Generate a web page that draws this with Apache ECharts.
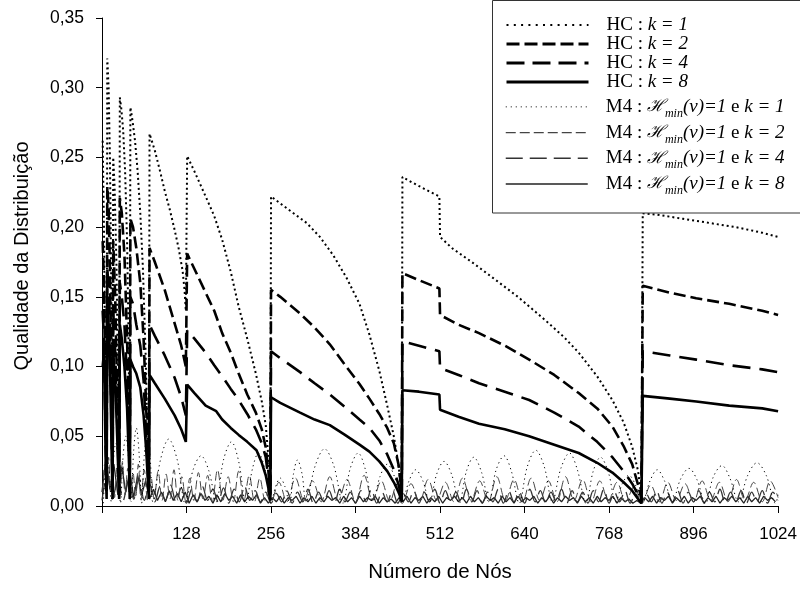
<!DOCTYPE html>
<html>
<head>
<meta charset="utf-8">
<script src="https://cdn.jsdelivr.net/npm/echarts@6/dist/echarts.min.js"></script>
<style>html,body{margin:0;padding:0;background:#fff}#c{width:800px;height:590px}</style>
</head>
<body>
<div id="c"></div>
<script>
// ---- data ----
const xTicks = [0, 128, 256, 384, 512, 640, 768, 896, 1024];
const yTicks = [0, 0.05, 0.10, 0.15, 0.20, 0.25, 0.30, 0.35];

const hcK1 = [
[1,0.262],[3,0.2],[5,0.09],[7,0.015],
[8,0.321],[10,0.3],[12,0.25],[14,0.16],[16,0.03],
[17,0.25],[19,0.23],[22,0.17],[24,0.1],[26,0.02],
[27,0.293],[29,0.286],[32,0.27],[35,0.24],[38,0.19],[40,0.13],[42,0.03],
[43,0.286],[46,0.277],[50,0.262],[54,0.24],[58,0.21],[62,0.17],[66,0.11],[69,0.05],[71,0.01],
[72,0.267],[80,0.255],[88,0.24],[95,0.226],[103,0.212],[110,0.198],[116,0.185],[122,0.169],[125,0.155],[127,0.14],
[129,0.251],[140,0.24],[157,0.222],[170,0.208],[182,0.191],[195,0.168],[207,0.143],[220,0.12],[233,0.095],[242,0.075],[248,0.058],[252,0.035],[255,0.01],
[256,0.222],[270,0.217],[290,0.21],[310,0.203],[330,0.193],[350,0.18],[370,0.164],[390,0.145],[405,0.123],[420,0.097],[432,0.072],[442,0.05],[449,0.03],[453,0.012],[454,0.005],
[455,0.236],[470,0.232],[490,0.227],[511,0.222],[512,0.193],[530,0.185],[560,0.175],[591,0.164],[630,0.15],[672,0.133],[700,0.121],[722,0.11],[750,0.093],[773,0.076],[790,0.06],[803,0.0425],[812,0.025],[817,0.006],
[819,0.21],[840,0.209],[880,0.206],[920,0.203],[960,0.2],[1000,0.196],[1024,0.193]
];
const hcK2 = [
[1,0.19],[3,0.16],[5,0.08],[7,0.01],
[8,0.229],[10,0.215],[12,0.17],[14,0.1],[16,0.01],
[17,0.19],[20,0.15],[23,0.08],[26,0.01],
[27,0.221],[30,0.21],[34,0.18],[38,0.12],[41,0.05],[42,0.01],
[43,0.206],[47,0.2],[52,0.185],[58,0.16],[63,0.12],[67,0.07],[71,0.01],
[72,0.185],[80,0.175],[95,0.155],[110,0.131],[120,0.115],[127,0.1],
[129,0.181],[140,0.17],[157,0.153],[170,0.14],[182,0.124],[195,0.11],[207,0.095],[220,0.08],[233,0.067],[242,0.055],[248,0.042],[252,0.025],[255,0.008],
[256,0.155],[270,0.15],[300,0.138],[322,0.128],[345,0.116],[370,0.1],[390,0.0875],[405,0.077],[420,0.066],[432,0.056],[442,0.045],[449,0.03],[453,0.014],[454,0.005],
[455,0.167],[480,0.162],[511,0.156],[512,0.137],[540,0.13],[571,0.124],[610,0.115],[647,0.105],[685,0.094],[722,0.081],[750,0.07],[773,0.057],[790,0.043],[803,0.03],[812,0.015],[817,0.005],
[819,0.158],[860,0.153],[900,0.149],[950,0.145],[1000,0.14],[1024,0.137]
];
const hcK4 = [
[1,0.14],[3,0.12],[5,0.06],[7,0.01],
[8,0.17],[11,0.15],[13,0.1],[15,0.04],[16,0.01],
[17,0.14],[20,0.11],[23,0.06],[26,0.01],
[27,0.16],[30,0.15],[34,0.13],[38,0.09],[41,0.04],[42,0.01],
[43,0.15],[47,0.145],[52,0.13],[58,0.115],[63,0.09],[67,0.05],[71,0.01],
[72,0.13],[80,0.122],[95,0.108],[110,0.092],[120,0.078],[127,0.065],
[129,0.126],[140,0.12],[157,0.11],[170,0.101],[182,0.093],[195,0.084],[207,0.076],[220,0.066],[233,0.055],[242,0.045],[248,0.035],[252,0.02],[255,0.005],
[256,0.111],[270,0.106],[300,0.096],[322,0.088],[345,0.08],[368,0.071],[390,0.062],[405,0.056],[420,0.047],[432,0.037],[442,0.026],[450,0.014],[454,0.004],
[455,0.118],[480,0.115],[511,0.111],[512,0.099],[540,0.094],[571,0.088],[610,0.082],[647,0.076],[685,0.067],[722,0.057],[750,0.046],[773,0.035],[790,0.025],[803,0.016],[812,0.008],[817,0.003],
[819,0.111],[860,0.108],[900,0.105],[950,0.101],[1000,0.098],[1024,0.096]
];
const hcK8 = [
[1,0.10],[3,0.11],[5,0.05],[7,0.005],
[8,0.15],[11,0.12],[13,0.08],[15,0.03],[16,0.005],
[17,0.11],[20,0.09],[23,0.05],[26,0.005],
[27,0.13],[30,0.12],[34,0.1],[38,0.07],[41,0.03],[42,0.005],
[43,0.105],[47,0.1],[52,0.095],[58,0.085],[63,0.065],[67,0.04],[71,0.005],
[72,0.094],[80,0.088],[95,0.077],[110,0.065],[120,0.055],[127,0.046],
[129,0.087],[140,0.081],[157,0.072],[173,0.068],[182,0.062],[195,0.056],[207,0.051],[220,0.046],[234,0.04],[242,0.031],[248,0.022],[252,0.013],[255,0.004],
[256,0.078],[270,0.074],[300,0.067],[322,0.062],[345,0.058],[368,0.051],[390,0.044],[405,0.039],[420,0.032],[432,0.025],[442,0.017],[450,0.009],[454,0.003],
[455,0.083],[480,0.082],[511,0.08],[512,0.069],[540,0.064],[571,0.059],[610,0.055],[647,0.05],[685,0.044],[722,0.038],[750,0.031],[773,0.024],[790,0.017],[803,0.011],[812,0.005],[817,0.002],
[819,0.079],[860,0.077],[900,0.075],[950,0.072],[1000,0.07],[1024,0.068]
];

const m4K1 = [
[2,0.002],[5,0.026],[8,0.035],[11,0.025],
[14,0.003],[17,0.032],[21,0.045],[25,0.031],
[28,0.002],[32,0.036],[36,0.05],[40,0.035],
[44,0.003],[48,0.04],[52,0.056],[56,0.039],
[60,0.002],[64,0.036],[68,0.05],[73,0.034],
[77,0.003],[89,0.034],[101,0.048],[114,0.033],
[126,0.002],[138,0.026],[150,0.036],[162,0.025],
[173,0.003],[184,0.033],[196,0.046],[207,0.032],
[218,0.002],[228,0.027],[237,0.038],[247,0.026],
[256,0.002],[263,0.014],[270,0.02],[277,0.014],
[284,0.002],[290,0.023],[296,0.033],[303,0.023],
[309,0.003],[323,0.029],[337,0.041],[351,0.029],
[365,0.002],[376,0.027],[388,0.038],[399,0.026],
[410,0.003],[421,0.021],[432,0.03],[443,0.021],
[454,0.002],[465,0.018],[475,0.026],[486,0.018],
[496,0.003],[507,0.023],[518,0.032],[530,0.022],
[541,0.002],[552,0.025],[563,0.035],[575,0.024],
[586,0.003],[597,0.026],[609,0.036],[620,0.025],
[632,0.002],[644,0.028],[657,0.04],[670,0.028],
[682,0.003],[695,0.027],[708,0.038],[720,0.026],
[733,0.002],[744,0.025],[755,0.035],[767,0.024],
[778,0.003],[788,0.016],[798,0.022],[808,0.015],
[818,0.002],[830,0.018],[841,0.026],[852,0.018],
[864,0.003],[876,0.019],[889,0.027],[901,0.019],
[914,0.002],[926,0.021],[939,0.029],[951,0.02],
[964,0.003],[978,0.022],[992,0.031],[1006,0.022],
[1020,0.002],[1024,0.008]
];
const m4K2 = [
[1,0.01],[4,0.03],[7,0.008],[10,0.035],[13,0.01],[16,0.028],[19,0.006],[23,0.03],[27,0.005],[31,0.032],
[35,0.008],[39,0.027],[43,0.004],[47,0.024],[51,0.006],[55,0.03],[59,0.005],[64,0.026],[69,0.004],[74,0.022],
[79,0.005],[85,0.025],[91,0.004],[97,0.023],[103,0.005],[109,0.026],[115,0.004],[121,0.021],[127,0.003],
[133,0.02],[139,0.004],[146,0.024],[153,0.005],[160,0.022],[167,0.003],[175,0.026],[183,0.004],[191,0.021],
[199,0.003],[207,0.025],[215,0.004],[223,0.022],[231,0.003],[239,0.02],[247,0.004],[252,0.012],[256,0.002],
[268,0.017],[280,0.003],[293,0.02],[306,0.004],[319,0.018],[332,0.003],[345,0.021],[358,0.004],[371,0.019],
[384,0.003],[397,0.022],[410,0.004],[423,0.018],[436,0.003],[446,0.015],[455,0.002],
[468,0.016],[481,0.003],[494,0.019],[507,0.004],[520,0.017],[533,0.003],[546,0.02],[559,0.004],[572,0.018],
[585,0.003],[598,0.021],[611,0.004],[624,0.019],[637,0.003],[650,0.02],[663,0.004],[676,0.018],[689,0.003],
[702,0.021],[715,0.004],[728,0.019],[741,0.003],[754,0.018],[767,0.004],[780,0.017],[793,0.003],[806,0.014],
[818,0.002],[831,0.015],[844,0.003],[857,0.017],[870,0.004],[883,0.016],[896,0.003],[909,0.018],[922,0.004],
[935,0.017],[948,0.003],[961,0.019],[974,0.004],[987,0.017],[1000,0.003],[1012,0.018],[1024,0.006]
];
// M4 k=4: one value every 8 nodes, starting at node 0
const m4K4Step = 8;
const m4K4 = [
0.004,0.022,0.005,0.02,0.004,0.018,0.005,0.02,0.004,0.016,
0.003,0.014,0.004,0.015,0.003,0.013,0.002,0.012,0.003,0.014,
0.004,0.012,0.003,0.013,0.002,0.012,0.003,0.014,0.004,0.011,
0.003,0.01,0.002,0.009,0.003,0.011,0.002,0.01,0.003,0.012,
0.002,0.01,0.003,0.011,0.002,0.012,0.003,0.01,0.002,0.011,
0.003,0.012,0.002,0.01,0.003,0.011,0.002,0.009,0.003,0.011,
0.002,0.01,0.003,0.012,0.002,0.011,0.003,0.01,0.002,0.012,
0.003,0.011,0.002,0.01,0.003,0.012,0.002,0.011,0.003,0.01,
0.002,0.012,0.003,0.011,0.002,0.01,0.003,0.012,0.002,0.011,
0.003,0.01,0.002,0.011,0.003,0.012,0.002,0.01,0.003,0.011,
0.002,0.009,0.002,0.009,0.003,0.011,0.002,0.01,0.003,0.011,
0.002,0.01,0.003,0.011,0.002,0.01,0.003,0.012,0.002,0.01,
0.003,0.011,0.002,0.01,0.003,0.011,0.002,0.01,0.004
];
// M4 k=8: one value every 6 nodes, starting at node 0
const m4K8Step = 6;
const m4K8 = [
0.01,0.035,0.012,0.03,0.008,0.028,0.01,0.025,0.006,0.022,0.008,0.018,0.005,
0.012,0.004,0.01,0.003,0.011,0.004,0.009,0.003,0.01,0.002,
0.008,0.003,0.009,0.004,0.007,0.002,0.008,0.003,0.009,0.004,
0.007,0.002,0.008,0.003,0.007,0.004,0.008,0.002,0.006,0.002,
0.006,0.003,0.007,0.002,0.006,0.004,0.007,0.002,0.006,0.003,
0.007,0.002,0.006,0.003,0.007,0.004,0.006,0.002,0.007,0.003,
0.006,0.002,0.007,0.003,0.006,0.004,0.007,0.002,0.006,0.003,
0.005,0.002,0.006,0.003,0.007,0.002,0.006,0.004,0.007,0.002,
0.006,0.003,0.007,0.002,0.006,0.004,0.007,0.003,0.006,0.002,
0.007,0.003,0.006,0.002,0.007,0.004,0.006,0.002,0.007,0.003,
0.006,0.002,0.007,0.003,0.006,0.004,0.007,0.002,0.006,0.003,
0.007,0.002,0.006,0.003,0.007,0.004,0.006,0.002,0.007,0.003,
0.006,0.002,0.007,0.003,0.006,0.004,0.007,0.002,0.006,0.003,
0.005,0.002,0.004,0.002,0.006,0.003,0.007,0.002,0.006,0.004,
0.007,0.002,0.006,0.003,0.007,0.002,0.006,0.004,0.007,0.002,
0.006,0.003,0.007,0.002,0.006,0.004,0.007,0.003,0.006,0.002,
0.007,0.003,0.006,0.002,0.007,0.004,0.006,0.003
];

const names = ['hc1','hc2','hc4','hc8','m41','m42','m44','m48'];
const labelsK = ['1','2','4','8'];

// ---- chart ----
const chart = echarts.init(document.getElementById('c'), null, {renderer: 'canvas'});
const serif = 'Liberation Serif';
function fmt(name) {
  const k = labelsK[names.indexOf(name) % 4];
  if (name.startsWith('hc')) return '{r|HC : }{i|k = ' + k + '}';
  return '{r|M4 : }{h|ℋ}{s|min}{i|(v)=1}{r| e }{i|k = ' + k + '}';
}
function richSet(lh) {
  return {
    r: {fontFamily: serif, fontSize: 19, color: '#000', lineHeight: lh},
    i: {fontFamily: serif, fontSize: 19, fontStyle: 'italic', color: '#000', lineHeight: lh},
    h: {fontFamily: 'DejaVu Serif', fontSize: 17, fontStyle: 'italic', color: '#000', lineHeight: lh},
    s: {fontFamily: serif, fontSize: 12, fontStyle: 'italic', color: '#000', lineHeight: 12, verticalAlign: 'bottom'}
  };
}
const sty = {
  hc1: {color: '#000', width: 2, type: [2, 3]},
  hc2: {color: '#000', width: 2.6, type: [12, 5]},
  hc4: {color: '#000', width: 2.6, type: [18, 9]},
  hc8: {color: '#000', width: 2.6, type: 'solid'},
  m41: {color: '#000', width: 1, type: [1.2, 3.5]},
  m42: {color: '#444', width: 1, type: [9, 4]},
  m44: {color: '#333', width: 1.3, type: [17, 7]},
  m48: {color: '#222', width: 1.3, type: 'solid'}
};
const legStyle = {
  hc1: {color: '#000', width: 2, type: [2, 5.3]},
  hc2: {color: '#000', width: 3, type: [13, 5]},
  hc4: {color: '#000', width: 3, type: [18, 8]},
  hc8: {color: '#000', width: 3, type: 'solid'},
  m41: {color: '#000', width: 1, type: [1, 4]},
  m42: {color: '#444', width: 1.2, type: [10, 4]},
  m44: {color: '#333', width: 1.5, type: [17, 7]},
  m48: {color: '#222', width: 1.5, type: 'solid'}
};
const dataMap = {
  hc1: hcK1, hc2: hcK2, hc4: hcK4, hc8: hcK8,
  m41: m4K1, m42: m4K2,
  m44: m4K4.map((v, i) => [i * m4K4Step, v]),
  m48: m4K8.map((v, i) => [i * m4K8Step, v])
};
const order = ['m48','m44','m42','m41','hc8','hc4','hc2','hc1'];
const series = order.map(n => ({
  name: n, type: 'line', data: dataMap[n], symbol: 'none', showSymbol: false,
  smooth: n === 'm41' || n === 'm42' || n === 'm44' ? 0.35 : false,
  lineStyle: sty[n], itemStyle: {color: sty[n].color}, z: n.startsWith('hc') ? 3 : 2,
  animation: false, silent: true
}));
function legendData(list) {
  return list.map(n => ({name: n, lineStyle: legStyle[n], itemStyle: {opacity: 0}}));
}
const legendBase = {
  orient: 'vertical', left: 505, itemWidth: 82, itemHeight: 10, itemGap: 0, padding: 0,
  formatter: fmt, selectedMode: false, z: 10
};
chart.setOption({
  animation: false,
  grid: {left: 102, right: 21, top: 18, bottom: 84},
  xAxis: {
    type: 'value', min: 0, max: 1024, interval: 128,
    axisLine: {lineStyle: {color: '#000', width: 1}},
    axisTick: {length: 7, lineStyle: {color: '#000'}},
    axisLabel: {formatter: v => (v === 0 ? '' : String(v)), fontFamily: 'Liberation Sans', fontSize: 17, color: '#000', margin: 20},
    splitLine: {show: false},
    name: 'Número de Nós', nameLocation: 'middle', nameGap: 56,
    nameTextStyle: {fontFamily: 'Liberation Sans', fontSize: 20.5, color: '#000'}
  },
  yAxis: {
    type: 'value', min: 0, max: 0.35, interval: 0.05,
    axisLine: {show: true, lineStyle: {color: '#000', width: 1}},
    axisTick: {show: true, length: 6, lineStyle: {color: '#000'}},
    axisLabel: {formatter: v => v.toFixed(2).replace('.', ','), fontFamily: 'Liberation Sans', fontSize: 17.5, color: '#000', margin: 18},
    splitLine: {show: false}
  },
  legend: [
    Object.assign({}, legendBase, {
      top: 15.5, data: legendData(['hc1','hc2','hc4','hc8']),
      textStyle: {fontFamily: serif, fontSize: 19, lineHeight: 19, color: '#000', padding: [0, 0, 0, 13], rich: richSet(19)}
    }),
    Object.assign({}, legendBase, {
      top: 94, data: legendData(['m41','m42','m44','m48']),
      textStyle: {fontFamily: serif, fontSize: 19, lineHeight: 25.7, color: '#000', padding: [0, 0, 0, 13], rich: richSet(25.7)}
    })
  ],
  graphic: [
    {type: 'rect', z: 5, shape: {x: 492.5, y: 0.5, width: 320, height: 212.5},
     style: {fill: '#fff', stroke: '#333', lineWidth: 1}, silent: true},
    {type: 'text', x: 22, y: 256, rotation: Math.PI / 2, z: 5, silent: true,
     style: {text: 'Qualidade da Distribuição', fontFamily: 'Liberation Sans', fontSize: 20, fill: '#000', align: 'center', verticalAlign: 'middle'}}
  ],
  series: series
});
</script>
</body>
</html>
